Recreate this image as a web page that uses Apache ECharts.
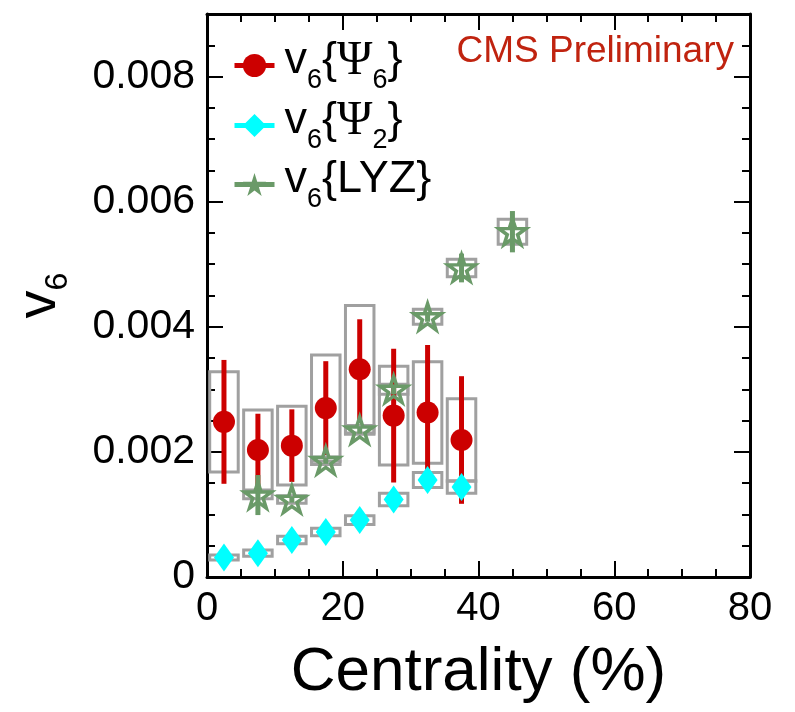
<!DOCTYPE html>
<html>
<head>
<meta charset="utf-8">
<script src="https://cdn.jsdelivr.net/npm/echarts@6/dist/echarts.min.js"></script>
<style>
  html, body { margin: 0; padding: 0; background: #fff; }
  #chart { width: 795px; height: 712px; }
</style>
</head>
<body>
<div id="chart"></div>
<script>
// centrality bin centres (%)
const centrality = [2.5, 7.5, 12.5, 17.5, 22.5, 27.5, 32.5, 37.5]
const lyzCentrality = [7.5, 12.5, 17.5, 22.5, 27.5, 32.5, 37.5, 45]
const binHalfWidth = 2.1

// v6{Psi6}
const v6Psi6 = [0.00248, 0.00203, 0.00210, 0.00270, 0.00332, 0.00258, 0.00263, 0.00219]
const v6Psi6Stat = [0.00099, 0.00058, 0.00058, 0.00075, 0.00080, 0.00107, 0.00108, 0.00102]
const v6Psi6Sys = [0.00080, 0.00064, 0.00063, 0.00085, 0.00102, 0.00079, 0.00081, 0.00066]

// v6{Psi2}
const v6Psi2 = [0.00031, 0.00038, 0.00059, 0.00072, 0.00091, 0.00124, 0.00155, 0.00144]
const v6Psi2Sys = [0.00004, 0.00005, 0.00006, 0.00006, 0.00007, 0.00010, 0.00012, 0.00010]

// v6{LYZ}
const v6LYZ = [0.00131, 0.00124, 0.00186, 0.00235, 0.00300, 0.00416, 0.00494, 0.00552]
const v6LYZStat = [0.00032, 0.00005, 0.00005, 0.00006, 0.00008, 0.00008, 0.00023, 0.00033]
const v6LYZSys = [0.00006, 0.00006, 0.00006, 0.00007, 0.00008, 0.00012, 0.00014, 0.00020]

const xTicks = [0, 20, 40, 60, 80]
const yTicks = [0, 0.002, 0.004, 0.006, 0.008]

const red = '#cc0000'
const cyan = '#00ffff'
const green = '#6a9a68'
const boxGray = '#a0a0a0'
const sans = '"Liberation Sans", Arial, Helvetica, sans-serif'
const serif = '"Liberation Serif", "Times New Roman", serif'
const starPath = 'path://M50,0L61.23,34.55L97.55,34.55L68.16,55.9L79.39,90.45L50,69.1L20.61,90.45L31.84,55.9L2.45,34.55L38.77,34.55Z'

const legendLabels = {
  psi6: '{f|v}{s|6}{n|{}{g|Ψ}{s|6}}',
  psi2: '{f|v}{s|6}{n|{}{g|Ψ}{s|2}}',
  lyz: '{f|v}{s|6}{n|{LYZ}}',
}

function sysBox(params, api) {
  const x = api.value(0)
  const y = api.value(1)
  const e = api.value(2)
  const p1 = api.coord([x - binHalfWidth, y + e])
  const p2 = api.coord([x + binHalfWidth, y - e])
  return {
    type: 'rect',
    shape: { x: p1[0], y: p1[1], width: p2[0] - p1[0], height: p2[1] - p1[1] },
    style: { fill: 'none', stroke: boxGray, lineWidth: 3 },
  }
}

function statBar(color) {
  return function (params, api) {
    const x = api.value(0)
    const y = api.value(1)
    const e = api.value(2)
    const top = api.coord([x, y + e])
    const bottom = api.coord([x, y - e])
    return {
      type: 'line',
      shape: { x1: top[0], y1: top[1], x2: bottom[0], y2: bottom[1] },
      style: { stroke: color, lineWidth: 5 },
    }
  }
}

const zip3 = (xs, ys, es) => xs.map((x, i) => [x, ys[i], es[i]])
const zip2 = (xs, ys) => xs.map((x, i) => [x, ys[i]])

const frameLine = { show: true, onZero: false, lineStyle: { color: '#000', width: 3 } }
const noLine = { show: false, onZero: false }
const majorTick = { show: true, inside: true, length: 16, lineStyle: { color: '#000', width: 2 } }
const minorTick = { show: true, inside: true, length: 8, lineStyle: { color: '#000', width: 2 } }
const xRange = { type: 'value', min: 0, max: 80, splitLine: { show: false } }
const yRange = { type: 'value', min: 0, max: 0.009, splitLine: { show: false } }

const chart = echarts.init(document.getElementById('chart'), null, { renderer: 'canvas' })

chart.setOption({
  animation: false,
  backgroundColor: '#fff',
  title: {
    text: 'CMS Preliminary',
    right: 61,
    top: 33,
    padding: 0,
    textStyle: { color: '#c0230f', fontFamily: sans, fontSize: 37, fontWeight: 'normal' },
  },
  grid: { left: 207, right: 45, top: 14, bottom: 135 },
  legend: {
    orient: 'vertical',
    left: 232,
    top: 37,
    padding: 0,
    itemWidth: 40,
    itemHeight: 29,
    itemGap: 3,
    selectedMode: false,
    lineStyle: { width: 5 },
    formatter: (name) => legendLabels[name],
    textStyle: {
      color: '#000',
      fontFamily: sans,
      fontSize: 45,
      lineHeight: 46,
      padding: [0, 0, 9, 0],
      rich: {
        f: { fontFamily: sans, fontSize: 45, lineHeight: 46, padding: [0, 0, 0, 5] },
        n: { fontFamily: sans, fontSize: 45, lineHeight: 46 },
        g: { fontFamily: serif, fontSize: 48, lineHeight: 46 },
        s: { fontFamily: sans, fontSize: 27, lineHeight: 46, verticalAlign: 'top', padding: [29, 0, 0, 0] },
      },
    },
    data: [
      { name: 'psi6' },
      { name: 'psi2' },
      { name: 'lyz', itemStyle: { color: green, borderWidth: 0 } },
    ],
  },
  xAxis: [
    {
      ...xRange,
      position: 'bottom',
      interval: 20,
      axisLine: frameLine,
      axisTick: majorTick,
      axisLabel: {
        color: '#000', fontFamily: sans, fontSize: 40, margin: 12,
        formatter: (v) => (xTicks.includes(v) ? String(v) : ''),
      },
      name: 'Centrality (%)',
      nameLocation: 'middle',
      nameGap: 65,
      nameTextStyle: { color: '#000', fontFamily: sans, fontSize: 62 },
    },
    { ...xRange, position: 'bottom', interval: 5, axisLine: noLine, axisTick: minorTick, axisLabel: { show: false } },
    { ...xRange, position: 'top', interval: 20, axisLine: frameLine, axisTick: majorTick, axisLabel: { show: false } },
    { ...xRange, position: 'top', interval: 5, axisLine: noLine, axisTick: minorTick, axisLabel: { show: false } },
  ],
  yAxis: [
    {
      ...yRange,
      position: 'left',
      interval: 0.002,
      axisLine: frameLine,
      axisTick: majorTick,
      axisLabel: {
        color: '#000', fontFamily: sans, fontSize: 41, margin: 12,
        formatter: (v) => {
          const tick = yTicks.find((t) => Math.abs(t - v) < 1e-7)
          if (tick === undefined) return ''
          return tick === 0 ? '0' : tick.toFixed(3)
        },
      },
      name: '{v|v}{s|6}',
      nameLocation: 'middle',
      nameRotate: 90,
      nameGap: 139,
      nameTextStyle: {
        color: '#000',
        fontFamily: sans,
        fontSize: 56,
        lineHeight: 56,
        rich: {
          v: { fontFamily: sans, fontSize: 56, lineHeight: 56 },
          s: { fontFamily: sans, fontSize: 32, lineHeight: 56, verticalAlign: 'top', padding: [30, 0, 0, 0] },
        },
      },
    },
    { ...yRange, position: 'left', interval: 0.0005, axisLine: noLine, axisTick: minorTick, axisLabel: { show: false } },
    { ...yRange, position: 'right', interval: 0.002, axisLine: frameLine, axisTick: majorTick, axisLabel: { show: false } },
    { ...yRange, position: 'right', interval: 0.0005, axisLine: noLine, axisTick: minorTick, axisLabel: { show: false } },
  ],
  series: [
    { type: 'custom', name: 'psi6 sys', renderItem: sysBox, data: zip3(centrality, v6Psi6, v6Psi6Sys), z: 1, silent: true },
    { type: 'custom', name: 'psi2 sys', renderItem: sysBox, data: zip3(centrality, v6Psi2, v6Psi2Sys), z: 1, silent: true },
    { type: 'custom', name: 'lyz sys', renderItem: sysBox, data: zip3(lyzCentrality, v6LYZ, v6LYZSys), z: 1, silent: true },
    { type: 'custom', name: 'psi6 stat', renderItem: statBar(red), data: zip3(centrality, v6Psi6, v6Psi6Stat), z: 2, silent: true },
    { type: 'custom', name: 'lyz stat', renderItem: statBar(green), data: zip3(lyzCentrality, v6LYZ, v6LYZStat), z: 2, silent: true },
    {
      type: 'line',
      name: 'psi6',
      data: zip2(centrality, v6Psi6),
      symbol: 'circle',
      symbolSize: 22,
      color: red,
      lineStyle: { width: 0, color: red },
      itemStyle: { color: red, borderWidth: 0 },
      z: 3,
    },
    {
      type: 'line',
      name: 'lyz',
      data: zip2(lyzCentrality, v6LYZ),
      symbol: starPath,
      symbolSize: [27, 26],
      color: green,
      lineStyle: { width: 0, color: green },
      itemStyle: { color: 'rgba(255,255,255,0)', borderColor: green, borderWidth: 3.5 },
      z: 4,
    },
    {
      type: 'line',
      name: 'psi2',
      data: zip2(centrality, v6Psi2),
      symbol: 'diamond',
      symbolSize: [20, 28],
      color: cyan,
      lineStyle: { width: 0, color: cyan },
      itemStyle: { color: cyan, borderWidth: 0 },
      z: 5,
    },
  ],
})
</script>
</body>
</html>
